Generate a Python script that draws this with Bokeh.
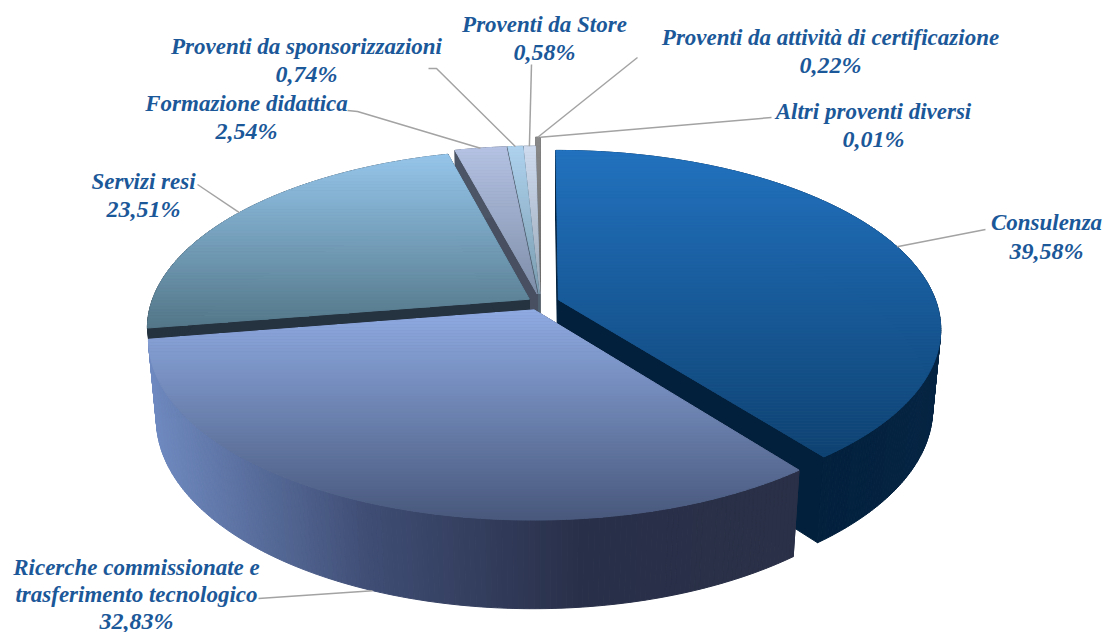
import math
from bokeh.plotting import figure
from bokeh.models import Range1d
from bokeh.core.properties import value
from bokeh.embed import file_html
from bokeh.resources import INLINE

# ---------- data ----------
names = ["Consulenza", "Ricerche commissionate e trasferimento tecnologico", "Servizi resi",
         "Formazione didattica", "Proventi da sponsorizzazioni", "Proventi da Store",
         "Proventi da attività di certificazione", "Altri proventi diversi"]
shares = [39.58, 32.83, 23.51, 2.54, 0.74, 0.58, 0.22, 0.01]
share_labels = ["39,58%", "32,83%", "23,51%", "2,54%", "0,74%", "0,58%", "0,22%", "0,01%"]

# ---------- style / layout ----------
label_lines = [["Consulenza"], ["Ricerche commissionate e", "trasferimento tecnologico"], ["Servizi resi"],
               ["Formazione didattica"], ["Proventi da sponsorizzazioni"], ["Proventi da Store"],
               ["Proventi da attività di certificazione"], ["Altri proventi diversi"]]
label_centers = [(1046, 222), (136, 567), (143, 181), (246, 103), (306, 46), (544, 24), (830, 37), (873, 111)]
label_gap = [28, 26.5, 27.5, 27.5, 27.5, 27.5, 27.5, 27.5]
leader_ends = [[(985, 229)], [(258, 598)], [(197, 184)], [(347, 110), (357, 111)], [(428, 68), (436, 68)],
               [(531, 64)], [(637, 57)], [(771, 117)]]
explode = [0.05, 0.045, 0.035, 0.05, 0.05, 0.05, 0.12, 0.12]
top_stops = [("#2272bf", "#0e4272"), ("#8fabe2", "#48587c"), ("#95c5ea", "#54788a"), ("#b4c1e2", "#7e8fa9"),
             ("#aed2ee", "#7c9db0"), ("#cfdaee", "#98a8b8"), ("#8a8a8a", "#6a6a6a"), ("#8a8a8a", "#6a6a6a")]
top_span = [(150, 457), (310, 520), (155, 325), (150, 295), (147, 295), (146, 295), (134, 285), (134, 285)]
wall_stops = [["#02203c", "#052443"], ["#6f8ac0", "#3f4d74", "#282f48", "#2a3047"], ["#25323f"], ["#4b5566"],
              ["#4f6070"], ["#5a6878"], ["#777777"], ["#777777"]]
wall_span = [(800, 940), (150, 800), (150, 540), (450, 540), (500, 540), (500, 540), (530, 545), (530, 545)]
face_color = ["#02203c", "#2a3047", "#25323f", "#474f60", "#4f6070", "#5a6878", "#777777", "#777777"]
text_color = "#1b5899"
leader_color = "#a3a3a3"
draw_order = [7, 6, 5, 4, 3, 2, 0, 1]

CX, CY, A, B, K, H, M = 540, 302, 378, 174, 0.16, 80, 0.02


def project(u, v, z=0):
    w = 1 - K * v + M * z
    return CX + A * u / w, CY + (B * v + H * z) / w


def hex_rgb(c):
    return [int(c[i:i + 2], 16) for i in (1, 3, 5)]


def mix(stops, t):
    t = max(0.0, min(1.0, t))
    if len(stops) == 1:
        return stops[0]
    s = t * (len(stops) - 1)
    i = min(int(s), len(stops) - 2)
    f = s - i
    a, b = hex_rgb(stops[i]), hex_rgb(stops[i + 1])
    return "#%02x%02x%02x" % tuple(round(a[j] + (b[j] - a[j]) * f) for j in range(3))


def clip(poly, y0, keep_above):
    out = []
    n = len(poly)
    for i in range(n):
        p, q = poly[i], poly[(i + 1) % n]
        pin = (p[1] >= y0) == keep_above
        qin = (q[1] >= y0) == keep_above
        if pin:
            out.append(p)
        if pin != qin:
            t = (y0 - p[1]) / (q[1] - p[1])
            out.append((p[0] + (q[0] - p[0]) * t, y0))
    return out


p = figure(width=1105, height=632, output_backend="svg", toolbar_location=None,
           x_range=Range1d(0, 1105), y_range=Range1d(632, 0), min_border=0)
p.axis.visible = False
p.grid.visible = False
p.outline_line_color = None

total = sum(shares)
starts = []
acc = 0
for s in shares:
    starts.append(acc / total * 2 * math.pi)
    acc += s
ends = starts[1:] + [2 * math.pi]

xs, ys, fills = [], [], []


def add(poly, color):
    xs.append([q[0] for q in poly])
    ys.append([q[1] for q in poly])
    fills.append(color)


for i in draw_order:
    a0, a1 = starts[i], ends[i]
    mid = (a0 + a1) / 2
    u0, v0 = explode[i] * math.sin(mid), -explode[i] * math.cos(mid)
    pts = lambda a, z=0: project(u0 + math.sin(a), v0 - math.cos(a), z)
    apex = project(u0, v0)
    apex_b = project(u0, v0, 1)
    # radial faces
    add([apex, pts(a0), pts(a0, 1), apex_b], face_color[i])
    add([apex, pts(a1), pts(a1, 1), apex_b], face_color[i])
    # outer wall strips
    n = max(2, int((a1 - a0) / 0.012))
    strips = []
    for k in range(n):
        b0 = a0 + (a1 - a0) * k / n
        b1 = a0 + (a1 - a0) * (k + 1) / n
        q = [pts(b0), pts(b1), pts(b1, 1), pts(b0, 1)]
        xm = (q[0][0] + q[1][0]) / 2
        c = mix(wall_stops[i], (xm - wall_span[i][0]) / (wall_span[i][1] - wall_span[i][0]))
        strips.append(((q[0][1]), q, c))
    for _, q, c in sorted(strips, key=lambda e: e[0]):
        add(q, c)
    # top face with vertical gradient bands
    m = max(2, int((a1 - a0) / 0.01))
    wedge = [apex] + [pts(a0 + (a1 - a0) * k / m) for k in range(m + 1)]
    y_min, y_max = min(q[1] for q in wedge), max(q[1] for q in wedge)
    bands = max(2, int((y_max - y_min) / 3))
    for k in range(bands):
        y0 = y_min + (y_max - y_min) * k / bands
        y1 = y_min + (y_max - y_min) * (k + 1) / bands
        poly = clip(clip(wedge, y0, True), y1, False)
        if len(poly) >= 3:
            span = top_span[i]
            add(poly, mix(list(top_stops[i]), ((y0 + y1) / 2 - span[0]) / (span[1] - span[0])))

p.patches(xs, ys, fill_color=fills, line_color=fills, line_width=1)

# leaders
for i in range(len(shares)):
    mid = (starts[i] + ends[i]) / 2
    u0, v0 = explode[i] * math.sin(mid), -explode[i] * math.cos(mid)
    z = 1 if i == 1 else 0
    rim = project(u0 + math.sin(mid), v0 - math.cos(mid), z)
    path = leader_ends[i] + [rim]
    p.line([q[0] for q in path], [q[1] for q in path], line_color=leader_color, line_width=1.5)

# labels
for i in range(len(shares)):
    cx, cy = label_centers[i]
    lines = label_lines[i] + [share_labels[i]]
    for j, txt in enumerate(lines):
        size = "24px" if j == len(lines) - 1 else "23px"
        p.text([cx], [cy + j * label_gap[i]], text=[txt], text_align="center", text_baseline="middle",
               text_color=text_color, text_font=value("Liberation Serif"),
               text_font_style="bold italic", text_font_size=size)

open("out.html", "w").write(file_html(p, INLINE))
